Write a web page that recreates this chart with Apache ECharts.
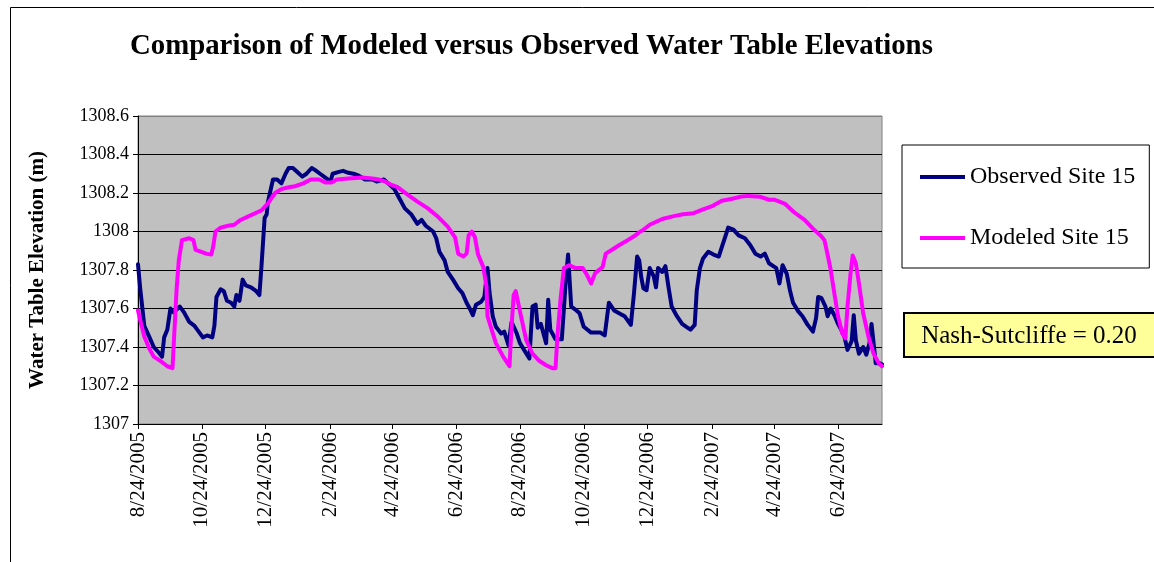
<!DOCTYPE html>
<html>
<head>
<meta charset="utf-8">
<script src="https://cdn.jsdelivr.net/npm/echarts/dist/echarts.min.js"></script>
<style>
html,body{margin:0;padding:0;background:#fff;}
#chart{width:1154px;height:562px;}
</style>
</head>
<body>
<div id="chart"></div>
<script>
// Axis: one category per day starting 8/24/2005
const startDate = '2005-08-24';
const dayCount = 712; // through 8/5/2007
const tickMonths = [7, 9, 11, 1, 3, 5]; // Aug, Oct, Dec, Feb, Apr, Jun (0-based) on the 24th
const yTicks = [1307, 1307.2, 1307.4, 1307.6, 1307.8, 1308, 1308.2, 1308.4, 1308.6];

// Observed Site 15: day offsets from 8/24/2005 and elevations (m)
const obsDays = [0,2,4,6,11,15,20,23,25,28,31,34,36,40,44,49,54,58,62,66,71,73,75,79,82,85,89,92,94,97,100,103,108,113,116,118,121,123,124,129,133,137,141,144,148,152,157,161,166,169,174,179,184,186,192,196,201,206,211,217,224,228,235,239,245,250,255,261,267,271,275,282,285,288,293,296,301,306,310,314,317,320,323,328,331,334,336,339,342,347,350,354,357,362,365,374,377,380,382,385,390,392,394,399,405,409,411,414,419,422,426,433,442,446,450,455,465,471,474,477,479,481,483,486,489,493,495,497,501,504,507,510,515,520,524,528,532,534,537,540,545,550,555,558,561,564,569,574,580,585,590,595,599,603,610,613,616,620,623,626,631,635,640,645,648,650,653,657,659,662,666,669,672,675,678,682,684,686,689,693,696,699,701,703,705,709,711];
const obsVals = [1307.83,1307.71,1307.61,1307.51,1307.45,1307.40,1307.37,1307.35,1307.45,1307.49,1307.60,1307.58,1307.59,1307.61,1307.58,1307.53,1307.51,1307.48,1307.45,1307.46,1307.45,1307.51,1307.66,1307.70,1307.69,1307.64,1307.63,1307.61,1307.67,1307.64,1307.75,1307.72,1307.71,1307.69,1307.67,1307.82,1308.07,1308.09,1308.15,1308.27,1308.27,1308.25,1308.30,1308.33,1308.33,1308.31,1308.285,1308.30,1308.33,1308.32,1308.30,1308.28,1308.26,1308.30,1308.31,1308.315,1308.305,1308.30,1308.29,1308.27,1308.27,1308.26,1308.27,1308.25,1308.22,1308.17,1308.12,1308.09,1308.04,1308.06,1308.03,1308.00,1307.965,1307.895,1307.85,1307.79,1307.75,1307.705,1307.68,1307.63,1307.60,1307.565,1307.62,1307.635,1307.66,1307.81,1307.68,1307.56,1307.505,1307.47,1307.48,1307.41,1307.53,1307.47,1307.42,1307.34,1307.61,1307.62,1307.50,1307.52,1307.42,1307.645,1307.49,1307.44,1307.44,1307.76,1307.88,1307.61,1307.59,1307.575,1307.505,1307.475,1307.475,1307.46,1307.63,1307.59,1307.56,1307.515,1307.68,1307.87,1307.85,1307.76,1307.705,1307.695,1307.81,1307.765,1307.71,1307.81,1307.79,1307.82,1307.71,1307.61,1307.56,1307.52,1307.505,1307.49,1307.515,1307.695,1307.81,1307.86,1307.895,1307.88,1307.87,1307.92,1307.97,1308.02,1308.01,1307.98,1307.965,1307.93,1307.885,1307.87,1307.885,1307.835,1307.81,1307.73,1307.825,1307.78,1307.695,1307.63,1307.585,1307.56,1307.515,1307.48,1307.55,1307.66,1307.655,1307.61,1307.56,1307.60,1307.56,1307.52,1307.49,1307.455,1307.385,1307.43,1307.565,1307.435,1307.365,1307.40,1307.36,1307.42,1307.52,1307.42,1307.315,1307.315,1307.31];

// Modeled Site 15
const modDays = [0,3,6,11,15,22,28,33,34,37,39,42,49,53,55,60,65,70,72,74,79,86,92,98,106,114,118,124,131,137,144,150,158,165,173,179,185,190,201,214,224,230,236,241,248,258,267,277,287,296,303,306,311,314,316,319,322,325,330,333,334,338,342,349,355,357,359,361,362,366,371,377,383,390,396,399,401,404,407,412,418,425,429,433,437,444,447,453,460,468,474,480,482,489,501,512,521,531,540,548,558,568,575,583,595,603,608,618,627,637,645,653,656,659,662,666,669,673,676,678,681,683,686,689,693,698,703,708,711];
const modVals = [1307.59,1307.52,1307.455,1307.39,1307.35,1307.325,1307.30,1307.29,1307.40,1307.71,1307.85,1307.955,1307.965,1307.955,1307.905,1307.895,1307.885,1307.88,1307.925,1308.00,1308.02,1308.03,1308.035,1308.06,1308.08,1308.10,1308.11,1308.145,1308.20,1308.22,1308.23,1308.235,1308.25,1308.27,1308.27,1308.255,1308.255,1308.27,1308.275,1308.28,1308.275,1308.27,1308.26,1308.245,1308.23,1308.19,1308.155,1308.12,1308.075,1308.025,1307.97,1307.885,1307.87,1307.885,1307.98,1308.00,1307.97,1307.88,1307.815,1307.715,1307.56,1307.49,1307.42,1307.35,1307.30,1307.505,1307.67,1307.69,1307.68,1307.56,1307.435,1307.365,1307.33,1307.305,1307.29,1307.29,1307.47,1307.66,1307.81,1307.825,1307.81,1307.81,1307.775,1307.73,1307.785,1307.815,1307.885,1307.905,1307.93,1307.955,1307.975,1308.00,1308.005,1308.035,1308.065,1308.08,1308.09,1308.095,1308.115,1308.13,1308.16,1308.17,1308.18,1308.185,1308.18,1308.165,1308.165,1308.145,1308.10,1308.06,1308.015,1307.975,1307.955,1307.88,1307.80,1307.66,1307.56,1307.47,1307.445,1307.61,1307.785,1307.875,1307.835,1307.73,1307.575,1307.455,1307.365,1307.315,1307.30];

const start = new Date(startDate + 'T00:00:00Z');
const categories = [];
const tickSet = new Set();
for (let i = 0; i < dayCount; i++) {
  const d = new Date(start.getTime() + i * 86400000);
  categories.push((d.getUTCMonth() + 1) + '/' + d.getUTCDate() + '/' + d.getUTCFullYear());
  if (d.getUTCDate() === 24 && tickMonths.includes(d.getUTCMonth())) tickSet.add(i);
}
const isTick = (idx) => tickSet.has(idx);

const serif = "'Liberation Serif', 'Times New Roman', serif";
const gridColors = yTicks.map((t, i) => i === yTicks.length - 1 ? '#808080' : '#000000');
const chart = echarts.init(document.getElementById('chart'), null, {renderer: 'canvas'});
chart.setOption({
  animation: false,
  backgroundColor: '#ffffff',
  title: {
    text: 'Comparison of Modeled versus Observed Water Table Elevations',
    left: 130, top: 32, padding: 0,
    textStyle: {fontFamily: serif, fontWeight: 'bold', fontSize: 28.8, color: '#000'}
  },
  legend: {
    orient: 'vertical',
    left: 902, top: 145,
    padding: [20, 14, 18, 18],
    itemGap: 37,
    itemWidth: 45, itemHeight: 4,
    icon: 'rect',
    borderColor: '#000', borderWidth: 1,
    textStyle: {fontFamily: serif, fontSize: 24, color: '#000'},
    data: ['Observed Site 15', 'Modeled Site 15']
  },
  grid: {
    left: 138, right: 272, top: 116, bottom: 138,
    show: true, backgroundColor: '#C0C0C0', borderColor: '#808080', borderWidth: 1,
    containLabel: false
  },
  xAxis: {
    type: 'category',
    data: categories,
    boundaryGap: false,
    axisLine: {lineStyle: {color: '#000', width: 1}},
    axisTick: {show: true, interval: isTick, length: 5, lineStyle: {color: '#000'}},
    axisLabel: {interval: isTick, rotate: 90, margin: 8, fontFamily: serif, fontSize: 21, color: '#000'},
    splitLine: {show: false}
  },
  yAxis: {
    type: 'value',
    min: yTicks[0], max: yTicks[yTicks.length - 1], interval: 0.2,
    name: 'Water Table Elevation (m)',
    nameLocation: 'middle', nameGap: 90,
    nameTextStyle: {fontFamily: serif, fontWeight: 'bold', fontSize: 21, color: '#000'},
    axisLine: {show: true, lineStyle: {color: '#000', width: 1}},
    axisTick: {show: true, length: 5, lineStyle: {color: '#000'}},
    axisLabel: {margin: 9, fontFamily: serif, fontSize: 18, color: '#000',
      formatter: v => String(+v.toFixed(1))},
    splitLine: {show: true, lineStyle: {color: gridColors, width: 1}}
  },
  series: [
    {
      name: 'Observed Site 15', type: 'line', symbol: 'none', smooth: false,
      color: '#000080',
      lineStyle: {color: '#000080', width: 4, join: 'round', cap: 'round'},
      data: obsDays.map((d, i) => [d, obsVals[i]])
    },
    {
      name: 'Modeled Site 15', type: 'line', symbol: 'none', smooth: false,
      color: '#FF00FF',
      lineStyle: {color: '#FF00FF', width: 4, join: 'round', cap: 'round'},
      data: modDays.map((d, i) => [d, modVals[i]])
    }
  ],
  graphic: [
    {type: 'rect', left: 8, top: 5, z: -1, silent: true,
      shape: {width: 1145, height: 600}, style: {fill: 'none', stroke: '#000', lineWidth: 1}},
    {type: 'group', left: 903, top: 312, children: [
      {type: 'rect', shape: {x: 0, y: 0, width: 252, height: 44},
        style: {fill: '#FFFF99', stroke: '#000', lineWidth: 2}},
      {type: 'text', x: 125, y: 23,
        style: {text: 'Nash-Sutcliffe = 0.20', fontFamily: serif, fontSize: 25, fill: '#000',
          align: 'center', verticalAlign: 'middle'}}
    ]}
  ]
});
</script>
</body>
</html>
